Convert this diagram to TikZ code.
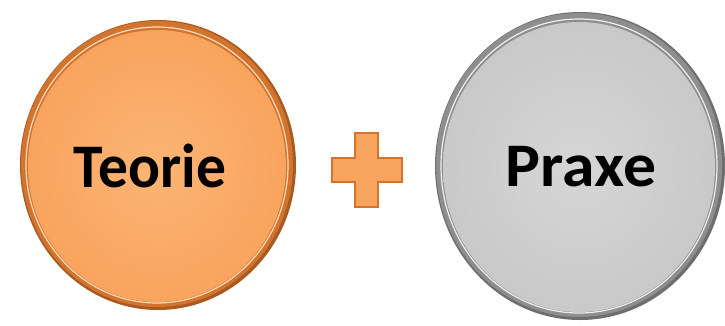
\documentclass[tikz,border=0pt]{standalone}
\usepackage{fontspec}
\setmainfont{Carlito}
\usetikzlibrary{shapes.geometric}
\definecolor{orFill}{HTML}{F9A45E}
\definecolor{orLight}{HTML}{FBB574}
\definecolor{orRim}{HTML}{D2742E}
\definecolor{orDark}{HTML}{A85A20}
\definecolor{grFill}{HTML}{C9C9C9}
\definecolor{grLight}{HTML}{D6D6D6}
\definecolor{grRim}{HTML}{8E8E8E}
\definecolor{grDark}{HTML}{6E6E6E}
\tikzset{
  lbl/.style={font=\fontsize{62}{62}\selectfont\bfseries, text=black, inner sep=0pt, anchor=base},
}
\begin{document}
\begin{tikzpicture}[x=1pt,y=-1pt]
\useasboundingbox (0,0) rectangle (725,325);
\fill[white] (0,0) rectangle (725,325);
% orange disc
\fill[orDark] (158,165) ellipse [x radius=138, y radius=145];
\fill[orRim] (157,164) ellipse [x radius=136, y radius=143];
\draw[white!60!orFill, line width=1.2] (157,165) ellipse [x radius=131, y radius=138];
\shade[inner color=orLight, outer color=orFill] (157,166) ellipse [x radius=129, y radius=136];
\node[lbl, xscale=0.96] (teorie) at (150,187) {Teorie};
% plus sign
\filldraw[fill=orFill, draw=orRim, line width=1.5]
  (355,133) -- (378,133) -- (378,158) -- (402,158) -- (402,182) -- (378,182)
  -- (378,207) -- (355,207) -- (355,182) -- (332,182) -- (332,158) -- (355,158) -- cycle;
% gray disc
\fill[grDark] (580,166) ellipse [x radius=145, y radius=154];
\fill[grRim] (579,165) ellipse [x radius=143, y radius=152];
\draw[white!70!grFill, line width=1.2] (579,166) ellipse [x radius=138, y radius=147];
\shade[inner color=grLight, outer color=grFill] (579,167) ellipse [x radius=136, y radius=145];
\node[lbl, xscale=1.06] (praxe) at (581,186) {Praxe};
\end{tikzpicture}
\end{document}
